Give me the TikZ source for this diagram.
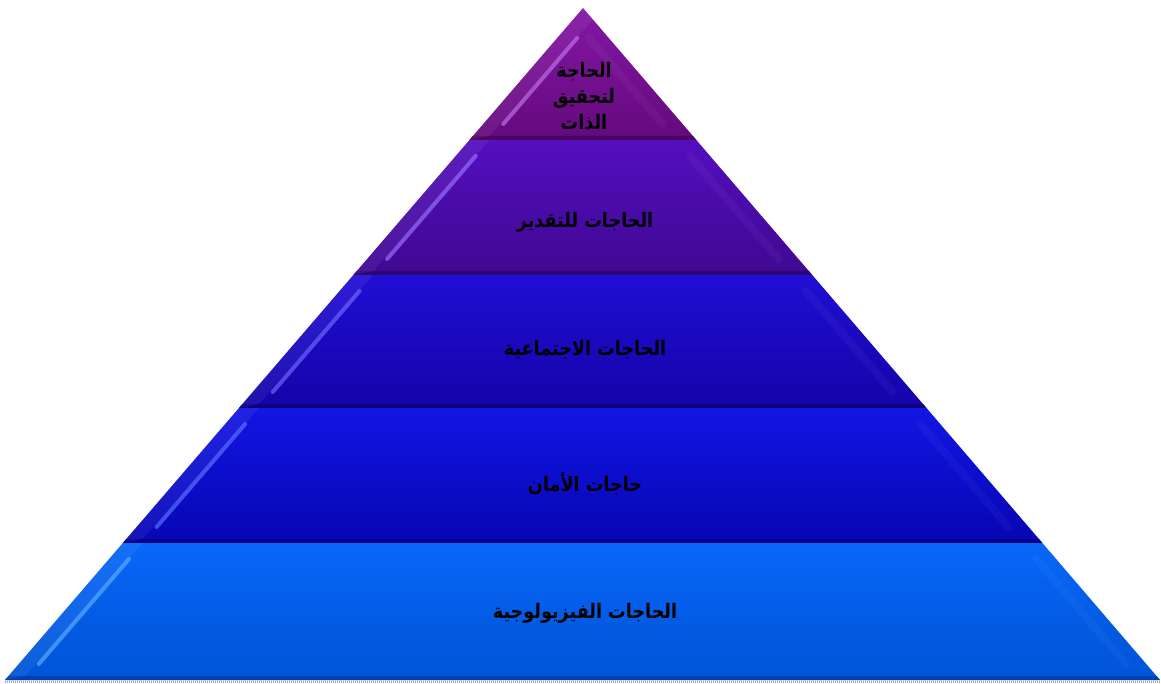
\documentclass[tikz,border=0pt]{standalone}
\usepackage{fontspec}
\usepackage{graphicx}
\TeXXeTstate=1
\newfontfamily\arabicfont[Script=Arabic]{DejaVu Sans}
% layer colours: top of band, bottom of band, bottom rim, highlight
\definecolor{pA}{RGB}{132,22,166}\definecolor{pAb}{RGB}{100,10,124}\definecolor{pAr}{RGB}{70,6,90}\definecolor{pAh}{RGB}{190,110,230}
\definecolor{pB}{RGB}{84,14,190}\definecolor{pBb}{RGB}{64,8,146}\definecolor{pBr}{RGB}{44,4,110}\definecolor{pBh}{RGB}{150,110,250}
\definecolor{pC}{RGB}{32,14,212}\definecolor{pCb}{RGB}{20,4,168}\definecolor{pCr}{RGB}{14,2,120}\definecolor{pCh}{RGB}{110,100,255}
\definecolor{pD}{RGB}{18,22,226}\definecolor{pDb}{RGB}{6,6,180}\definecolor{pDr}{RGB}{0,0,130}\definecolor{pDh}{RGB}{90,110,255}
\definecolor{pE}{RGB}{8,102,248}\definecolor{pEb}{RGB}{0,84,214}\definecolor{pEr}{RGB}{0,60,170}\definecolor{pEh}{RGB}{90,170,255}
\newcommand\artext[1]{\scalebox{0.88}[1]{\beginR #1\endR}}
\begin{document}
\begin{tikzpicture}[x=1pt,y=-1pt,
  tier/.style={font=\arabicfont\bfseries\fontsize{20}{26}\selectfont, text=black, align=center, inner sep=0pt}]
\useasboundingbox (0,0) rectangle (1161,684);
% ground shadow under the base
\draw[gray!70, line width=2.5pt, dash pattern=on 1pt off 1pt] (5,682) -- (1160,682);
% the five bands of the pyramid, apex (583,8), base (5,680)-(1160,680)
\foreach \yt/\yb/\ca/\cb/\cr/\ch/\sa in {8/140/pA/pAb/pAr/pAh/30, 140/275/pB/pBb/pBr/pBh/16, 275/408/pC/pCb/pCr/pCh/16, 408/543/pD/pDb/pDr/pDh/16, 543/680/pE/pEb/pEr/pEh/16}{
  \pgfmathsetmacro\xlt{583-0.860119*(\yt-8)}
  \pgfmathsetmacro\xrt{583+0.858631*(\yt-8)}
  \pgfmathsetmacro\xlb{583-0.860119*(\yb-8)}
  \pgfmathsetmacro\xrb{583+0.858631*(\yb-8)}
  \shade[top color=\ca, bottom color=\cb] (\xlt,\yt) -- (\xrt,\yt) -- (\xrb,\yb) -- (\xlb,\yb) -- cycle;
  % bevel: rim along the lower edge
  \fill[\cr, opacity=0.85] (\xlb,\yb) -- (\xrb,\yb) -- ({\xrb-3.4},{\yb-4}) -- ({\xlb+3.4},{\yb-4}) -- cycle;
  % bevel: lighter left face, fainter right face
  \pgfmathsetmacro\yh{\yt+\sa}
  \pgfmathsetmacro\yl{\yb-16}
  \pgfmathsetmacro\xhl{583-0.860119*(\yh-8)+20}
  \pgfmathsetmacro\xll{583-0.860119*(\yl-8)+20}
  \pgfmathsetmacro\xhr{583+0.858631*(\yh-8)-20}
  \pgfmathsetmacro\xlr{583+0.858631*(\yl-8)-20}
  \fill[white, opacity=0.06] (\xlt,\yt) -- ({\xlt+20},{\yt}) -- ({\xlb+20},{\yb-4}) -- (\xlb,\yb) -- cycle;
  \draw[\ch, line width=4pt, line cap=round, opacity=0.7] (\xhl,\yh) -- (\xll,\yl);
  \draw[white, line width=8pt, line cap=round, opacity=0.035] (\xhr,\yh) -- (\xlr,\yl);
}
% labels
\node[tier] (self)   at (584,96)  {\artext{الحاجة}\\\artext{لتحقيق}\\\artext{الذات}};
\node[tier] (esteem) at (585,222) {\artext{الحاجات للتقدير}};
\node[tier] (social) at (585,350) {\artext{الحاجات الاجتماعية}};
\node[tier] (safety) at (585,484) {\artext{حاجات الأمان}};
\node[tier] (phys)   at (585,613) {\artext{الحاجات الفيزيولوجية}};
\end{tikzpicture}
\end{document}
